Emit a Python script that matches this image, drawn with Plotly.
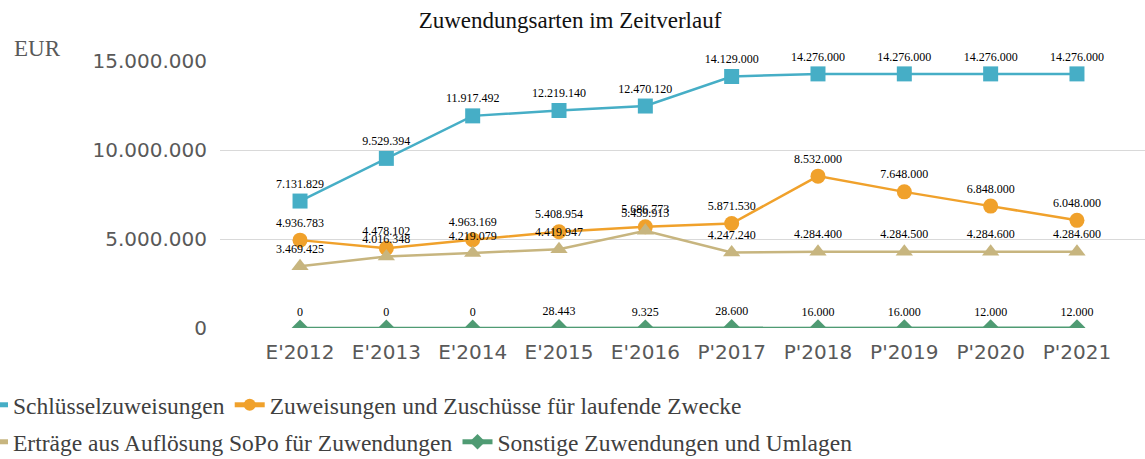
import plotly.graph_objects as go

categories = ["E'2012", "E'2013", "E'2014", "E'2015", "E'2016", "P'2017", "P'2018", "P'2019", "P'2020", "P'2021"]
schluessel = [7131829, 9529394, 11917492, 12219140, 12470120, 14129000, 14276000, 14276000, 14276000, 14276000]
zuweisungen = [4936783, 4478102, 4963169, 5408954, 5686773, 5871530, 8532000, 7648000, 6848000, 6048000]
ertraege = [3469425, 4016348, 4219079, 4419947, 5459913, 4247240, 4284400, 4284500, 4284600, 4284600]
sonstige = [0, 0, 0, 28443, 9325, 28600, 16000, 16000, 12000, 12000]
y_ticks = [0, 5000000, 10000000, 15000000]

W, H = 1145, 459
L, R, T, B = 220, 0, 61, 131
pw = W - L - R
ph = H - T - B

def px_x(px):
    return (px - L) / pw

def px_y(py):
    return (H - B - py) / ph

lbl_font = dict(family="Liberation Serif", size=12, color="#000000")
ser = [
    ("Schlüsselzuweisungen", schluessel, "#46AEC6", "square", 15, "legend", False),
    ("Zuweisungen und Zuschüsse für laufende Zwecke", zuweisungen, "#F0A12B", "circle", 15, "legend", False),
    ("Erträge aus Auflösung SoPo für Zuwendungen", ertraege, "#C7B57F", "triangle-up", 15, "legend2", False),
    ("Sonstige Zuwendungen und Umlagen", sonstige, "#4F9B73", "diamond", 13, "legend2", True),
]

fig = go.Figure()
for name, vals, col, sym, size, lg, clip in ser:
    fig.add_trace(go.Scatter(
        x=categories, y=vals, name=name, mode="lines+markers+text",
        line=dict(color=col, width=2.5),
        marker=dict(color=col, symbol=sym, size=size),
        texttemplate="%{y:,.0f}", textposition="top center",
        textfont=lbl_font, cliponaxis=clip, legend=lg,
    ))

leg_common = dict(orientation="h", xanchor="left", yanchor="middle",
                  font=dict(family="Liberation Serif", size=23.5, color="#404040"),
                  bgcolor="rgba(0,0,0,0)", itemsizing="constant")

fig.update_layout(
    width=W, height=H,
    margin=dict(l=L, r=R, t=T, b=B, autoexpand=False),
    paper_bgcolor="white", plot_bgcolor="white",
    separators=",.",
    title=dict(text="Zuwendungsarten im Zeitverlauf", x=570 / W, xanchor="center",
               y=1 - 20 / H, yanchor="middle",
               font=dict(family="Liberation Serif", size=23, color="#111111")),
    xaxis=dict(range=[-0.927, 9.788], showgrid=False, showline=False, zeroline=False,
               ticks="", tickfont=dict(family="DejaVu Sans", size=20, color="#595959"),
               ticklabelstandoff=10),
    yaxis=dict(range=[0, 15000000], tickvals=y_ticks, tickformat=",.0f",
               showgrid=True, gridcolor="#D9D9D9", gridwidth=1, zeroline=False,
               showline=False, ticks="",
               tickfont=dict(family="DejaVu Sans", size=20, color="#595959"),
               ticklabelstandoff=12),
    legend=dict(x=px_x(-27), y=px_y(405), **leg_common),
    legend2=dict(x=px_x(-27), y=px_y(442), **leg_common),
    showlegend=True,
    annotations=[dict(text="EUR", xref="paper", yref="paper", x=px_x(12), y=px_y(48),
                      xanchor="left", yanchor="middle", showarrow=False,
                      font=dict(family="Liberation Serif", size=23, color="#595959"))],
)

fig.write_html("out.html", config={"displayModeBar": False},
               post_script="document.body.style.margin='0px';document.body.style.overflow='hidden';")
